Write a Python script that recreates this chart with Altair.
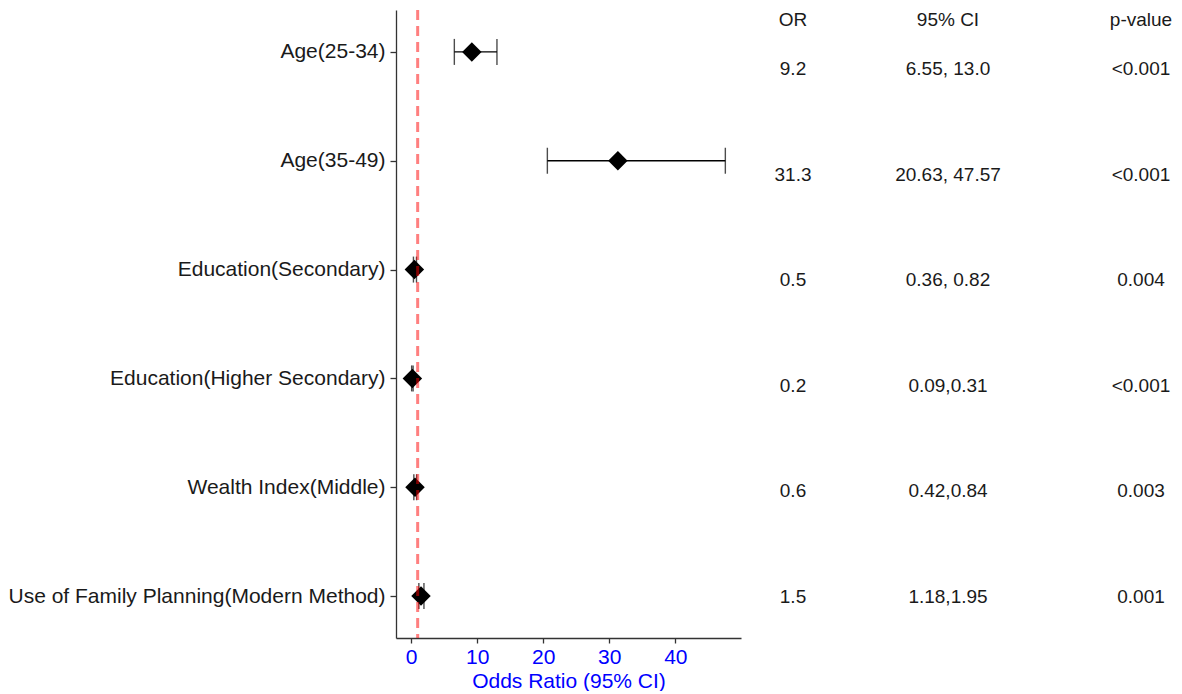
import altair as alt
import pandas as pd

labels = [
    "Age(25-34)",
    "Age(35-49)",
    "Education(Secondary)",
    "Education(Higher Secondary)",
    "Wealth Index(Middle)",
    "Use of Family Planning(Modern Method)",
]
odds = [9.2, 31.3, 0.5, 0.2, 0.6, 1.5]
ci_low = [6.55, 20.63, 0.36, 0.09, 0.42, 1.18]
ci_high = [13.0, 47.57, 0.82, 0.31, 0.84, 1.95]
ci_text = ["6.55, 13.0", "20.63, 47.57", "0.36, 0.82", "0.09,0.31", "0.42,0.84", "1.18,1.95"]
p_text = ["<0.001", "<0.001", "0.004", "<0.001", "0.003", "0.001"]
x_ticks = [0, 10, 20, 30, 40]
ref_value = [1]
headers = ["OR", "95% CI", "p-value"]

FONT = "Liberation Sans"
TXT = "#1a1a1a"

df = pd.DataFrame({"label": labels, "OR": odds, "lo": ci_low, "hi": ci_high,
                   "ci": ci_text, "p": p_text})
ref_df = pd.DataFrame({"ref": ref_value})

xscale = alt.Scale(domain=[-2.28, 49.94], nice=False, zero=False)
yenc = alt.Y("label:N", sort=labels, scale=alt.Scale(type="point", padding=0.385),
             axis=alt.Axis(title=None, labelFontSize=21, labelColor=TXT, labelFont=FONT,
                           tickSize=6, tickColor="#333", domainColor="#333",
                           domainWidth=1.3, tickWidth=1.3, labelPadding=5, labelLimit=500))

base = alt.Chart(df).encode(y=yenc)

bars = base.mark_rule(color="black", strokeWidth=1.4).encode(
    x=alt.X("lo:Q", scale=xscale,
            axis=alt.Axis(title="Odds Ratio (95% CI)", values=x_ticks, grid=False,
                          labelFontSize=21, labelColor="blue", labelFont=FONT,
                          titleFontSize=21, titleColor="blue", titleFont=FONT,
                          titleFontWeight="normal", titlePadding=3,
                          tickSize=5, tickColor="#333", domainColor="#333",
                          domainWidth=1.3, tickWidth=1.3, labelPadding=3)),
    x2="hi:Q",
)
cap_lo = base.mark_tick(color="black", size=26, thickness=1.4).encode(x=alt.X("lo:Q", scale=xscale))
cap_hi = base.mark_tick(color="black", size=26, thickness=1.4).encode(x=alt.X("hi:Q", scale=xscale))
pts = base.mark_point(shape="diamond", filled=True, color="black", size=380, opacity=1).encode(
    x=alt.X("OR:Q", scale=xscale))
ref = alt.Chart(ref_df).mark_rule(color="red", opacity=0.5, strokeWidth=3, strokeDash=[10, 6]).encode(
    x=alt.X("ref:Q", scale=xscale))

forest = alt.layer(bars, cap_lo, cap_hi, pts, ref).properties(width=345, height=628)

tbase = alt.Chart(df).encode(
    y=alt.Y("label:N", sort=labels, scale=alt.Scale(type="point", padding=0.559), axis=None))
tkw = dict(fontSize=19, font=FONT, color=TXT, align="center", baseline="middle")
col_x = [52, 207, 400]
t_or = tbase.mark_text(**tkw).encode(x=alt.value(col_x[0]), text=alt.Text("OR:Q", format=".1f"))
t_ci = tbase.mark_text(**tkw).encode(x=alt.value(col_x[1]), text="ci:N")
t_p = tbase.mark_text(**tkw).encode(x=alt.value(col_x[2]), text="p:N")
hdr_layers = []
for h, cx in zip(headers, col_x):
    hdr_layers.append(
        alt.Chart(pd.DataFrame({"h": [h]})).mark_text(**tkw).encode(
            x=alt.value(cx), y=alt.value(10), text="h:N"))
table = alt.layer(t_or, t_ci, t_p, *hdr_layers).properties(width=420, height=646)

chart = alt.hconcat(forest, table, spacing=0).properties(
    padding={"left": 0, "top": 0, "right": 0, "bottom": 0}
).configure(font=FONT, background="white").configure_view(stroke=None)

chart.save("out.html", embed_options={"renderer": "svg", "actions": False})
